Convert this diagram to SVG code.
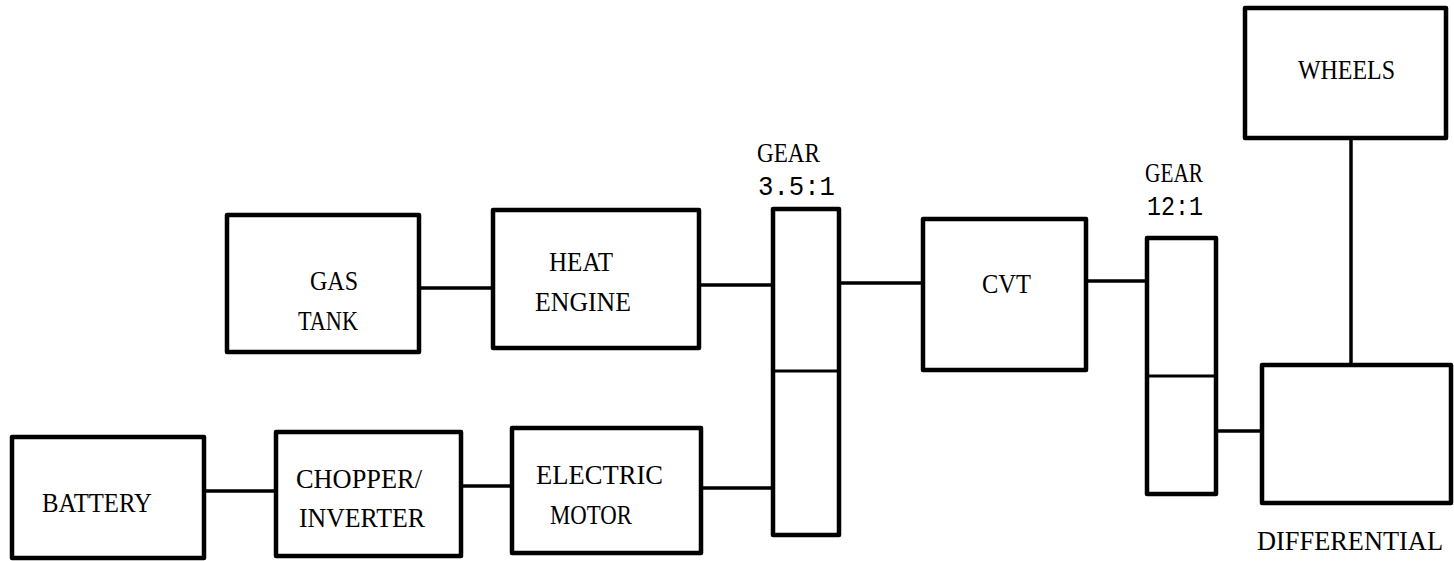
<svg xmlns="http://www.w3.org/2000/svg" width="1454" height="561" viewBox="0 0 1454 561">
<style>
.box{fill:#fff;stroke:#000;stroke-width:4.5;stroke-linejoin:round}
.div{stroke:#000;stroke-width:3}
.con{stroke:#000;stroke-width:3.5;fill:none}
.t{font-family:"Liberation Serif",serif;font-size:28px;fill:#000}
.m{font-family:"Liberation Serif",serif;font-size:27px;fill:#000}
.n{font-family:"Liberation Mono",monospace;font-size:27px;fill:#000}
</style>
<rect width="1454" height="561" fill="#fff"/>
<g id="connectors">
<line class="con" x1="419" y1="288" x2="493" y2="288"/>
<line class="con" x1="699" y1="285" x2="773" y2="285"/>
<line class="con" x1="839" y1="283" x2="923" y2="283"/>
<line class="con" x1="1086" y1="281" x2="1147" y2="281"/>
<line class="con" x1="1216" y1="431" x2="1262" y2="431"/>
<line class="con" x1="1351" y1="138" x2="1351" y2="365"/>
<line class="con" x1="204" y1="491" x2="276" y2="491"/>
<line class="con" x1="461" y1="486" x2="512" y2="486"/>
<line class="con" x1="701" y1="488" x2="773" y2="488"/>
</g>
<g id="gas-tank">
<rect class="box" x="227" y="215" width="192" height="137"/>
<text class="t" x="310" y="290" textLength="48" lengthAdjust="spacingAndGlyphs">GAS</text>
<text class="t" x="298" y="330" textLength="60" lengthAdjust="spacingAndGlyphs">TANK</text>
</g>
<g id="heat-engine">
<rect class="box" x="493" y="210" width="206" height="138"/>
<text class="t" x="549" y="271" textLength="64" lengthAdjust="spacingAndGlyphs">HEAT</text>
<text class="t" x="535" y="311" textLength="96" lengthAdjust="spacingAndGlyphs">ENGINE</text>
</g>
<g id="gear-35">
<rect class="box" x="773" y="209" width="66" height="326"/>
<line class="div" x1="773" y1="371" x2="839" y2="371"/>
<text class="t" x="757" y="162" textLength="63" lengthAdjust="spacingAndGlyphs">GEAR</text>
<text class="n" x="758" y="195" textLength="77" lengthAdjust="spacingAndGlyphs">3.5:1</text>
</g>
<g id="electric-motor">
<rect class="box" x="512" y="428" width="189" height="125"/>
<text class="t" x="536" y="484" textLength="127" lengthAdjust="spacingAndGlyphs">ELECTRIC</text>
<text class="t" x="550" y="524" textLength="82" lengthAdjust="spacingAndGlyphs">MOTOR</text>
</g>
<g id="battery">
<rect class="box" x="12" y="437" width="192" height="121"/>
<text class="t" x="42" y="512" textLength="110" lengthAdjust="spacingAndGlyphs">BATTERY</text>
</g>
<g id="chopper-inverter">
<rect class="box" x="276" y="432" width="185" height="124"/>
<text class="t" x="296" y="488" textLength="126" lengthAdjust="spacingAndGlyphs">CHOPPER/</text>
<text class="t" x="299" y="527" textLength="126" lengthAdjust="spacingAndGlyphs">INVERTER</text>
</g>
<g id="cvt">
<rect class="box" x="923" y="219" width="163" height="151"/>
<text class="t" x="982" y="293" textLength="49" lengthAdjust="spacingAndGlyphs">CVT</text>
</g>
<g id="gear-12">
<rect class="box" x="1147" y="238" width="69" height="256"/>
<line class="div" x1="1147" y1="376" x2="1216" y2="376"/>
<text class="t" x="1145" y="182" textLength="58" lengthAdjust="spacingAndGlyphs">GEAR</text>
<text class="n" x="1147" y="215" textLength="56" lengthAdjust="spacingAndGlyphs">12:1</text>
</g>
<g id="wheels">
<rect class="box" x="1245" y="8" width="201" height="130"/>
<text class="t" x="1298" y="79" textLength="97" lengthAdjust="spacingAndGlyphs">WHEELS</text>
</g>
<g id="differential">
<rect class="box" x="1262" y="365" width="189" height="138"/>
<text class="m" x="1257" y="550" textLength="186" lengthAdjust="spacingAndGlyphs">DIFFERENTIAL</text>
</g>
</svg>
